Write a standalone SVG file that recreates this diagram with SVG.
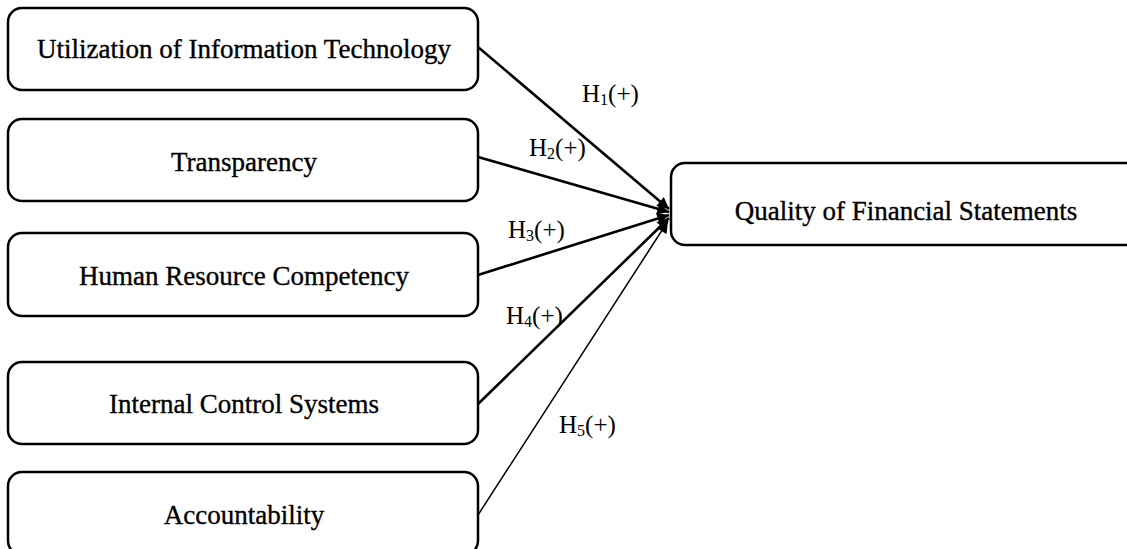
<svg xmlns="http://www.w3.org/2000/svg" width="1127" height="549" viewBox="0 0 1127 549">
<style>
.box{fill:#fff;stroke:#000;stroke-width:2.5}
.t{font-family:"Liberation Serif","Times New Roman",serif;font-size:27px;fill:#000;stroke:#000;stroke-width:0.35;text-anchor:middle}
.h{font-family:"Liberation Serif","Times New Roman",serif;font-size:25px;fill:#000}
.s{font-size:16px}
.c{stroke:#000;fill:none}
</style>
<defs>
<marker id="arr" viewBox="0 0 10 10" refX="10" refY="5" markerWidth="6" markerHeight="4.5" orient="auto" markerUnits="strokeWidth">
<path d="M0,0 L10,5 L0,10 z" fill="#000"/>
</marker>
<marker id="arr2" viewBox="0 0 10 10" refX="10" refY="5" markerWidth="10" markerHeight="8" orient="auto" markerUnits="strokeWidth">
<path d="M0,0 L10,5 L0,10 z" fill="#000"/>
</marker>
</defs>
<rect width="1127" height="549" fill="#fff"/>
<g id="connectors">
<line class="c" x1="478" y1="47" x2="669" y2="209" stroke-width="2.6" marker-end="url(#arr)"/>
<line class="c" x1="478" y1="157" x2="669" y2="212" stroke-width="2.6" marker-end="url(#arr)"/>
<line class="c" x1="478" y1="275" x2="669" y2="215" stroke-width="2.6" marker-end="url(#arr)"/>
<line class="c" x1="478" y1="404" x2="669" y2="218" stroke-width="2.6" marker-end="url(#arr)"/>
<line class="c" x1="478" y1="515" x2="668" y2="221" stroke-width="1.5" marker-end="url(#arr2)"/>
</g>
<g id="labels">
<text class="h" x="582" y="102">H<tspan class="s" dy="3">1</tspan><tspan dy="-3">(+)</tspan></text>
<text class="h" x="529" y="156">H<tspan class="s" dy="3">2</tspan><tspan dy="-3">(+)</tspan></text>
<text class="h" x="508" y="238">H<tspan class="s" dy="3">3</tspan><tspan dy="-3">(+)</tspan></text>
<text class="h" x="506" y="324">H<tspan class="s" dy="3">4</tspan><tspan dy="-3">(+)</tspan></text>
<text class="h" x="559" y="433">H<tspan class="s" dy="3">5</tspan><tspan dy="-3">(+)</tspan></text>
</g>
<g id="n1"><rect class="box" x="8" y="8" width="470" height="82" rx="14"/><text class="t" x="244" y="58">Utilization of Information Technology</text></g>
<g id="n2"><rect class="box" x="8" y="119" width="470" height="82" rx="14"/><text class="t" x="244" y="171">Transparency</text></g>
<g id="n3"><rect class="box" x="8" y="233" width="470" height="83" rx="14"/><text class="t" x="244" y="285">Human Resource Competency</text></g>
<g id="n4"><rect class="box" x="8" y="362" width="470" height="82" rx="14"/><text class="t" x="244" y="413">Internal Control Systems</text></g>
<g id="n5"><rect class="box" x="8" y="472" width="470" height="83" rx="14"/><text class="t" x="244" y="524">Accountability</text></g>
<g id="n6"><rect class="box" x="671" y="163" width="480" height="82" rx="14"/><text class="t" x="906" y="220">Quality of Financial Statements</text></g>
</svg>
